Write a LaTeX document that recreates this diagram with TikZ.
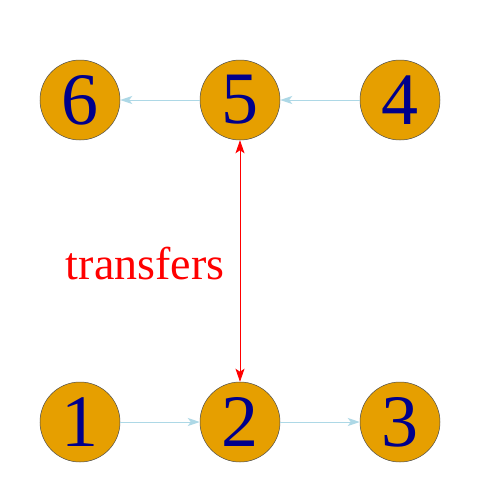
\documentclass[tikz,border=0pt]{standalone}
\usepackage{fontspec}
\setmainfont{LiberationSerif}[Extension=.ttf, UprightFont=*-Regular]
\usepackage{tikz}
\usetikzlibrary{positioning,arrows.meta}
\definecolor{nodeorange}{HTML}{E69F00}
\definecolor{nodetext}{HTML}{00008B}
\definecolor{edgeblue}{HTML}{ADD8E6}
\tikzset{
  vertex/.style={circle, draw=black!70, fill=nodeorange, line width=0.5pt, minimum size=80pt, inner sep=0pt,
                 text=nodetext, font=\fontsize{74}{74}\selectfont},
  fwd/.style={-{Stealth[length=12pt, width=8pt, inset=3pt]}, edgeblue, line width=1pt},
  xfer/.style={{Stealth[length=13pt, width=9pt, inset=3pt]}-{Stealth[length=13pt, width=9pt, inset=3pt]}, red, line width=0.8pt},
}

\begin{document}
\begin{tikzpicture}[x=1pt, y=-1pt]
  \useasboundingbox (0,0) rectangle (480,480);
  \node[vertex] (v6) at (80,100) {6};
  \node[vertex] (v5) at (240,100) {5};
  \node[vertex] (v4) at (400,100) {4};
  \node[vertex] (v1) at (80,422) {1};
  \node[vertex] (v2) at (240,422) {2};
  \node[vertex] (v3) at (400,422) {3};

  \draw[fwd] (v4) -- (v5);
  \draw[fwd] (v5) -- (v6);
  \draw[fwd] (v1) -- (v2);
  \draw[fwd] (v2) -- (v3);
  \draw[xfer] (v5) -- (v2) node[midway, left=12pt, yshift=-3pt, red, font=\fontsize{46}{46}\selectfont] {transfers};

\end{tikzpicture}
\end{document}
